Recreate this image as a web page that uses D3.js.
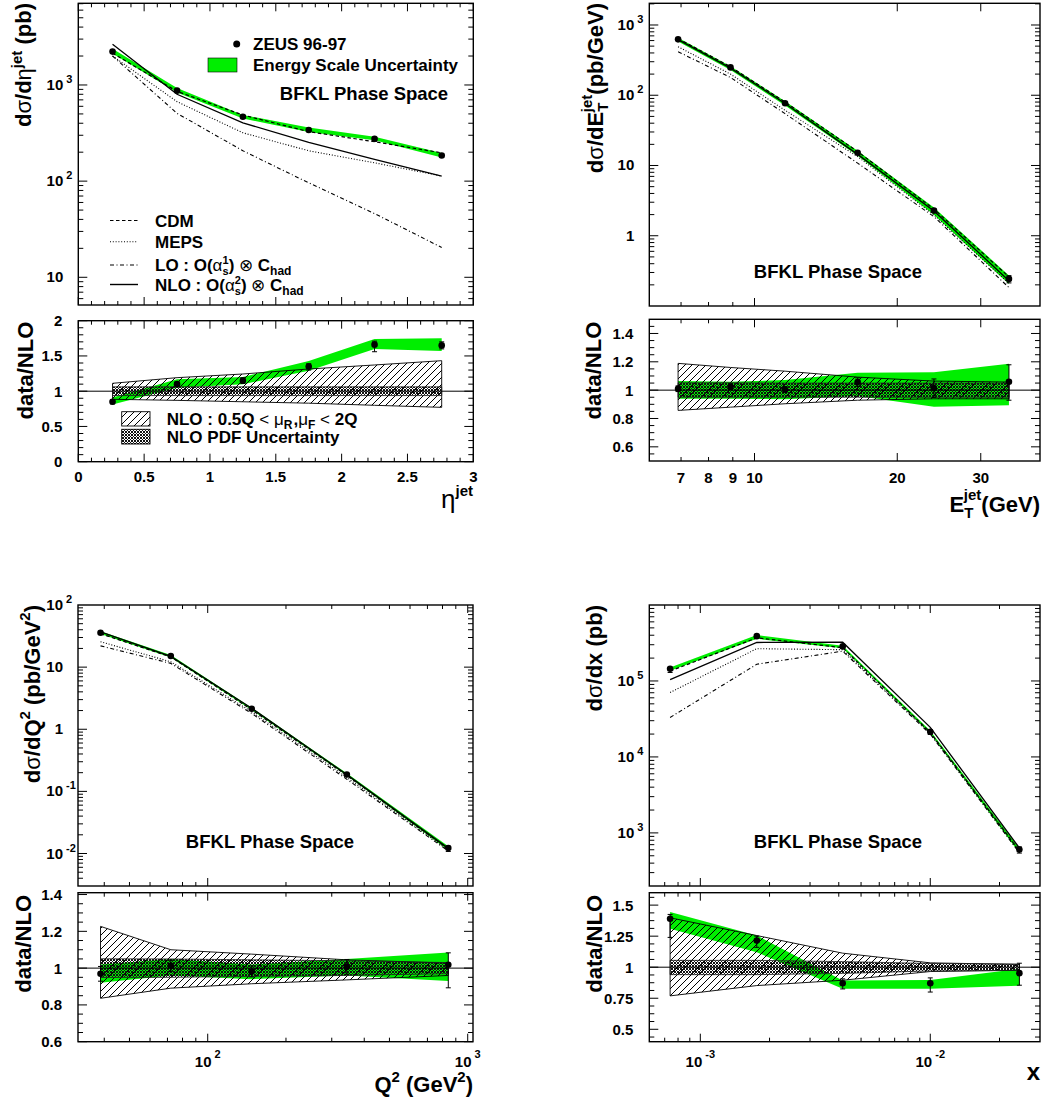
<!DOCTYPE html>
<html>
<head>
<meta charset="utf-8">
<script src="https://cdnjs.cloudflare.com/ajax/libs/d3/7.8.5/d3.min.js"></script>
<style>
html,body{margin:0;padding:0;background:#fff;}
svg{display:block;font-family:"Liberation Sans",Arial,Helvetica,sans-serif;font-weight:bold;}
text{white-space:pre;}
</style>
</head>
<body>
<svg id="chart" width="1047" height="1104"></svg>
<script>
// ================= DATA =================
// (a) d sigma / d eta^jet  (pb)
const etaBins   = [0.26, 0.75, 1.25, 1.75, 2.25, 2.76];
const etaData   = [2225, 873, 468, 340, 276, 185];
const etaCDM    = [2140, 857, 487, 327, 257, 197];
const etaMEPS   = [2005, 670, 318, 207, 155, 113];
const etaLO     = [2000, 507, 207, 96, 46, 20.4];
const etaNLO    = [2655, 800, 404, 253, 168, 113];
const etaRatio  = [0.85, 1.10, 1.15, 1.35, 1.66, 1.65];
const etaErrUp  = [0.03, 0.03, 0.04, 0.04, 0.05, 0.05];
const etaErrDn  = [0.03, 0.03, 0.04, 0.05, 0.10, 0.05];
const etaESLo   = [0.81, 1.05, 1.10, 1.29, 1.60, 1.57];
const etaESHi   = [0.91, 1.17, 1.20, 1.43, 1.74, 1.75];
const etaScaleHi= [1.112, 1.192, 1.244, 1.315, 1.372, 1.433];
const etaScaleLo= [0.885, 0.870, 0.850, 0.830, 0.800, 0.771];
const etaPdfHi  = [1.062, 1.062, 1.062, 1.062, 1.062, 1.062];
const etaPdfLo  = [0.938, 0.938, 0.938, 0.938, 0.938, 0.938];
const etaXTicks = [0, 0.5, 1, 1.5, 2, 2.5, 3];
const etaRTicks = [0, 0.5, 1, 1.5, 2];
const etaYExps  = [1, 2, 3];

// (b) d sigma / d E_T^jet  (pb/GeV)
const etBins    = [6.9, 8.9, 11.6, 16.5, 23.9, 34.4];
const etData    = [625, 249, 76.9, 15.2, 2.28, 0.243];
const etCDM     = [640, 255, 80, 15.8, 2.4, 0.26];
const etMEPS    = [490, 200, 61, 13.4, 1.98, 0.209];
const etLO      = [416, 179, 54.7, 10.8, 1.87, 0.183];
const etNLO     = [619, 243, 76.5, 14.4, 2.25, 0.229];
const etRatio   = [1.01, 1.024, 1.005, 1.057, 1.014, 1.059];
const etErrUp   = [0.02, 0.02, 0.02, 0.03, 0.065, 0.12];
const etErrDn   = [0.02, 0.02, 0.02, 0.03, 0.065, 0.13];
const etESLo    = [0.939, 0.94, 0.936, 0.958, 0.882, 0.893];
const etESHi    = [1.064, 1.06, 1.071, 1.123, 1.127, 1.187];
const etScaleHi = [1.189, 1.16, 1.134, 1.092, 1.064, 1.057];
const etScaleLo = [0.857, 0.88, 0.904, 0.929, 0.939, 0.939];
const etPdfHi   = [1.052, 1.052, 1.05, 1.05, 1.05, 1.05];
const etPdfLo   = [0.950, 0.950, 0.95, 0.95, 0.95, 0.95];
const etXMajor  = [10, 20, 30];
const etXMinor  = [7, 8, 9];
const etXLabels = [7, 8, 9, 10, 20, 30];
const etRTicks  = [0.6, 0.8, 1, 1.2, 1.4];
const etYExps   = [0, 1, 2, 3];

// (c) d sigma / d Q^2  (pb/GeV^2)
const q2Bins    = [38.7, 72.1, 147.6, 342.8, 842];
const q2Data    = [35.8, 15.1, 2.14, 0.187, 0.0123];
const q2CDM     = [34.5, 14.6, 2.06, 0.181, 0.0119];
const q2MEPS    = [25.6, 12.2, 1.91, 0.168, 0.0113];
const q2LO      = [22.0, 11.5, 1.80, 0.157, 0.0110];
const q2NLO     = [36.9, 14.9, 2.18, 0.186, 0.0121];
const q2Ratio   = [0.969, 1.013, 0.982, 1.007, 1.018];
const q2ErrUp   = [0.04, 0.03, 0.03, 0.04, 0.065];
const q2ErrDn   = [0.04, 0.03, 0.03, 0.04, 0.125];
const q2ESLo    = [0.92, 0.96, 0.94, 0.96, 0.93];
const q2ESHi    = [1.02, 1.05, 1.02, 1.05, 1.085];
const q2ScaleHi = [1.227, 1.10, 1.076, 1.045, 1.027];
const q2ScaleLo = [0.836, 0.891, 0.915, 0.936, 0.960];
const q2PdfHi   = [1.051, 1.05, 1.045, 1.04, 1.03];
const q2PdfLo   = [0.949, 0.95, 0.955, 0.96, 0.97];
const q2RTicks  = [0.6, 0.8, 1, 1.2, 1.4];
const q2YExps   = [-2, -1, 0, 1, 2];
const q2XExps   = [2, 3];

// (d) d sigma / d x  (pb)
const xBins     = [7.39e-4, 1.76e-3, 4.16e-3, 1.0e-2, 2.44e-2];
const xData     = [1.45e5, 3.89e5, 2.85e5, 2.15e4, 604];
const xCDM      = [1.35e5, 3.70e5, 2.74e5, 2.10e4, 580];
const xMEPS     = [7.05e4, 2.66e5, 2.58e5, 2.04e4, 574];
const xLO       = [3.31e4, 1.66e5, 2.47e5, 2.00e4, 547];
const xNLO      = [1.04e5, 3.21e5, 3.24e5, 2.45e4, 635];
const xRatio    = [1.39, 1.215, 0.871, 0.871, 0.952];
const xErrUp    = [0.035, 0.035, 0.035, 0.043, 0.08];
const xErrDn    = [0.15, 0.055, 0.046, 0.071, 0.097];
const xESLo     = [1.31, 1.121, 0.826, 0.826, 0.852];
const xESHi     = [1.444, 1.255, 0.892, 0.897, 0.987];
const xScaleHi  = [1.398, 1.255, 1.113, 1.035, 1.022];
const xScaleLo  = [0.769, 0.852, 0.895, 0.965, 0.975];
const xPdfHi    = [1.055, 1.055, 1.045, 1.03, 1.025];
const xPdfLo    = [0.940, 0.940, 0.950, 0.97, 0.975];
const xRTicks   = [0.5, 0.75, 1, 1.25, 1.5];
const xYExps    = [3, 4, 5];
const xXExps    = [-3, -2];

const phaseLabel = "BFKL Phase Space";

// ================= DRAWING =================
const GREEN = "#00ee00";
const svg = d3.select("#chart");
const defs = svg.append("defs");
const hp = defs.append("pattern").attr("id","hatch").attr("patternUnits","userSpaceOnUse")
  .attr("width",7).attr("height",7);
hp.append("path").attr("d","M-1,1 L1,-1 M0,7 L7,0 M6,8 L8,6").attr("stroke","#000").attr("stroke-width",1);
const cp = defs.append("pattern").attr("id","cross").attr("patternUnits","userSpaceOnUse")
  .attr("width",3).attr("height",3);
cp.append("path").attr("d","M-1,1 L1,-1 M0,3 L3,0 M2,4 L4,2 M-1,2 L1,4 M0,0 L3,3 M2,-1 L4,1")
  .attr("stroke","#111").attr("stroke-width",1.0);

function logTicks(dom){
  const maj=[],min=[];
  const a=Math.min(dom[0],dom[1]), b=Math.max(dom[0],dom[1]);
  for(let e=Math.floor(Math.log10(a))-1;e<=Math.ceil(Math.log10(b));e++){
    for(let k=1;k<10;k++){
      const v=k*Math.pow(10,e);
      if(v>=a*1.0001 && v<=b*0.9999){ (k===1?maj:min).push(v); }
    }
  }
  return {maj,min};
}
function linMinors(dom, start, step){
  const out=[];
  for(let k=-60;k<=60;k++){
    const v=start+k*step;
    if(v>dom[0]+1e-9 && v<dom[1]-1e-9) out.push(v);
  }
  return out;
}

function rich(g, x, y, parts, opt){
  const base=opt.size;
  const t=g.append("text").attr("font-size",base).attr("text-anchor",opt.anchor||"start");
  if(opt.rotate) t.attr("transform",`translate(${x},${y}) rotate(-90)`);
  else t.attr("x",x).attr("y",y);
  let cur=0;
  parts.forEach(p=>{
    if(typeof p==="string") p={t:p};
    const sz=p.size||((p.sup||p.sub)?Math.round(base*0.68):base);
    const off=p.sup?-(p.up||base*0.45):p.sub?(p.down||base*0.3):0;
    const s=t.append("tspan").attr("font-size",sz).attr("dy",off-cur).text(p.t);
    if(p.dx) s.attr("dx",p.dx);
    if(p.n) s.attr("font-weight","normal");
    cur=off;
  });
  return t;
}

function tickPath(xs, ys, xt, yt, x0,x1,y0,y1, lx, ly){
  let d="";
  xt.maj.forEach(v=>{const p=xs(v); d+=`M${p},${y0}v${lx[0]}M${p},${y1}v${-lx[0]}`;});
  xt.min.forEach(v=>{const p=xs(v); d+=`M${p},${y0}v${lx[1]}M${p},${y1}v${-lx[1]}`;});
  yt.maj.forEach(v=>{const p=ys(v); d+=`M${x0},${p}h${ly[0]}M${x1},${p}h${-ly[0]}`;});
  yt.min.forEach(v=>{const p=ys(v); d+=`M${x0},${p}h${ly[1]}M${x1},${p}h${-ly[1]}`;});
  return d;
}

function yPowLabel(g, yp, axisX, exp){
  const base = exp===0 ? "1" : "10";
  g.append("text").attr("x",axisX-15).attr("y",yp+5).attr("text-anchor","end").attr("font-size",15).text(base);
  if(exp!==0 && exp!==1)
    g.append("text").attr("x",axisX-12).attr("y",yp-2).attr("font-size",11).text(String(exp));
}

function drawPanel(c){
  const g=svg.append("g");
  const x=(c.xLog?d3.scaleLog():d3.scaleLinear()).domain(c.xDom).range([c.x0,c.x1]);
  const ym=d3.scaleLog().domain(c.yDom).range([c.m1,c.m0]);
  const yr=d3.scaleLinear().domain(c.rDom).range([c.r1,c.r0]);
  const idx=d3.range(c.xs.length);
  const X=i=>x(c.xs[i]);

  // ---------- main panel ----------
  const gm=g.append("g");
  gm.append("path").attr("fill",GREEN)
    .attr("d",d3.area().x(X).y0(i=>ym(c.data[i]*c.esLo[i]/c.ratio[i])).y1(i=>ym(c.data[i]*c.esHi[i]/c.ratio[i]))(idx));
  [[c.lo,"4,2.5,1,2.5",1.1],[c.meps,"1,1.8",1.1],[c.cdm,"3.5,2.5",1.2],[c.nlo,null,1.3]].forEach(([arr,dash,w])=>{
    const p=gm.append("path").attr("fill","none").attr("stroke","#000").attr("stroke-width",w)
      .attr("d",d3.line().x(X).y(i=>ym(arr[i]))(idx));
    if(dash) p.attr("stroke-dasharray",dash);
  });
  idx.forEach(i=>{
    const v=c.data[i], r=c.ratio[i];
    const yu=ym(v*(1+c.errUp[i]/r)), yd=ym(v*(1-c.errDn[i]/r)), xp=X(i);
    gm.append("path").attr("stroke","#000").attr("stroke-width",1).attr("fill","none")
      .attr("d",`M${xp},${yu}V${yd}M${xp-2.5},${yu}h5M${xp-2.5},${yd}h5`);
    gm.append("circle").attr("cx",xp).attr("cy",ym(v)).attr("r",3.3).attr("fill","#000");
  });
  const xt = c.xTicks(x);
  const ymt = logTicks(c.yDom);
  g.append("path").attr("stroke","#000").attr("stroke-width",1).attr("fill","none")
    .attr("d",tickPath(x,ym,xt,ymt,c.x0,c.x1,c.m0,c.m1,[8,4],[9,5]));
  g.append("rect").attr("x",c.x0).attr("y",c.m0).attr("width",c.x1-c.x0).attr("height",c.m1-c.m0)
    .attr("fill","none").attr("stroke","#000").attr("stroke-width",1.4);
  c.yExps.forEach(e=>yPowLabel(g, ym(Math.pow(10,e)), c.x0, e));

  // ---------- ratio panel ----------
  const gr=g.append("g");
  gr.append("path").attr("fill",GREEN)
    .attr("d",d3.area().x(X).y0(i=>yr(c.esLo[i])).y1(i=>yr(c.esHi[i]))(idx));
  gr.append("path").attr("fill","url(#hatch)").attr("stroke","#000").attr("stroke-width",0.9)
    .attr("d",d3.area().x(X).y0(i=>yr(c.scLo[i])).y1(i=>yr(c.scHi[i]))(idx)+"Z");
  gr.append("path").attr("fill","url(#cross)").attr("stroke","#222").attr("stroke-width",0.8)
    .attr("d",d3.area().x(X).y0(i=>yr(c.pdfLo[i])).y1(i=>yr(c.pdfHi[i]))(idx)+"Z");
  gr.append("line").attr("x1",c.x0).attr("x2",c.x1).attr("y1",yr(1)).attr("y2",yr(1))
    .attr("stroke","#000").attr("stroke-width",1);
  idx.forEach(i=>{
    const r=c.ratio[i], xp=X(i);
    const yu=yr(r+c.errUp[i]), yd=yr(r-c.errDn[i]);
    gr.append("path").attr("stroke","#000").attr("stroke-width",1).attr("fill","none")
      .attr("d",`M${xp},${yu}V${yd}M${xp-2.5},${yu}h5M${xp-2.5},${yd}h5`);
    gr.append("circle").attr("cx",xp).attr("cy",yr(r)).attr("r",3.3).attr("fill","#000");
  });
  const yrt={maj:c.rTicks, min:linMinors(c.rDom,c.rTicks[0],c.rMinorStep).filter(v=>!c.rTicks.some(t=>Math.abs(t-v)<1e-6))};
  g.append("path").attr("stroke","#000").attr("stroke-width",1).attr("fill","none")
    .attr("d",tickPath(x,yr,xt,yrt,c.x0,c.x1,c.r0,c.r1,[8,4],[9,5]));
  g.append("rect").attr("x",c.x0).attr("y",c.r0).attr("width",c.x1-c.x0).attr("height",c.r1-c.r0)
    .attr("fill","none").attr("stroke","#000").attr("stroke-width",1.4);
  c.rTicks.forEach(v=>{
    g.append("text").attr("x",c.x0-16).attr("y",yr(v)+5.5).attr("text-anchor","end")
      .attr("font-size",15).text(String(v));
  });
  c.xLabels(g, x, c.r1);

  // phase space label
  g.append("text").attr("x",c.phX).attr("y",c.phY).attr("text-anchor","middle")
    .attr("font-size",18.5).text(phaseLabel);
  return {g, x, ym, yr};
}

// ---- panel (a)
const A = drawPanel({
  xs:etaBins, data:etaData, cdm:etaCDM, meps:etaMEPS, lo:etaLO, nlo:etaNLO, ratio:etaRatio,
  errUp:etaErrUp, errDn:etaErrDn, esLo:etaESLo, esHi:etaESHi, scLo:etaScaleLo, scHi:etaScaleHi,
  pdfLo:etaPdfLo, pdfHi:etaPdfHi,
  xLog:false, xDom:[0,3], x0:78.3, x1:473.3,
  yDom:[5.15,7070], m0:3.3, m1:305,
  rDom:[0,2], r0:320.7, r1:461.7, rTicks:etaRTicks, rMinorStep:0.1,
  yExps:etaYExps,
  xTicks:x=>({maj:etaXTicks, min:linMinors([0,3],0,0.1).filter(v=>Math.abs(v*2-Math.round(v*2))>1e-6)}),
  xLabels:(g,x,yb)=>etaXTicks.forEach(v=>g.append("text").attr("x",x(v)).attr("y",yb+20).attr("text-anchor","middle").attr("font-size",15).text(String(v))),
  phX:364, phY:99.5
});

// ---- panel (b)
const B = drawPanel({
  xs:etBins, data:etData, cdm:etCDM, meps:etMEPS, lo:etLO, nlo:etNLO, ratio:etRatio,
  errUp:etErrUp, errDn:etErrDn, esLo:etESLo, esHi:etESHi, scLo:etScaleLo, scHi:etScaleHi,
  pdfLo:etPdfLo, pdfHi:etPdfHi,
  xLog:true, xDom:[6,40], x0:649.3, x1:1040,
  yDom:[0.1,2036], m0:3.3, m1:306,
  rDom:[0.5,1.5], r0:319.3, r1:461, rTicks:etRTicks, rMinorStep:0.05,
  yExps:etYExps,
  xTicks:x=>({maj:etXMajor, min:etXMinor}),
  xLabels:(g,x,yb)=>etXLabels.forEach(v=>g.append("text").attr("x",x(v)).attr("y",yb+22).attr("text-anchor","middle").attr("font-size",15).text(String(v))),
  phX:838, phY:278
});

// ---- panel (c)
function powXLabels(exps){
  return (g,x,yb)=>exps.forEach(e=>{
    const t=g.append("text").attr("x",x(Math.pow(10,e))).attr("y",yb+25).attr("text-anchor","middle").attr("font-size",15);
    t.append("tspan").text("10");
    t.append("tspan").attr("font-size",11).attr("dy",-9).attr("dx",3).text(String(e));
  });
}
const C = drawPanel({
  xs:q2Bins, data:q2Data, cdm:q2CDM, meps:q2MEPS, lo:q2LO, nlo:q2NLO, ratio:q2Ratio,
  errUp:q2ErrUp, errDn:q2ErrDn, esLo:q2ESLo, esHi:q2ESHi, scLo:q2ScaleLo, scHi:q2ScaleHi,
  pdfLo:q2PdfLo, pdfHi:q2PdfHi,
  xLog:true, xDom:[31.7,1048], x0:78, x1:473,
  yDom:[0.003,100], m0:605, m1:886,
  rDom:[0.6,1.41], r0:892.7, r1:1041.7, rTicks:q2RTicks, rMinorStep:0.05,
  yExps:q2YExps,
  xTicks:x=>logTicks([31.7,1048]),
  xLabels:powXLabels(q2XExps),
  phX:270, phY:848
});

// ---- panel (d)
const D = drawPanel({
  xs:xBins, data:xData, cdm:xCDM, meps:xMEPS, lo:xLO, nlo:xNLO, ratio:xRatio,
  errUp:xErrUp, errDn:xErrDn, esLo:xESLo, esHi:xESHi, scLo:xScaleLo, scHi:xScaleHi,
  pdfLo:xPdfLo, pdfHi:xPdfHi,
  xLog:true, xDom:[6e-4,0.03], x0:649.3, x1:1040,
  yDom:[200,1e6], m0:605, m1:886,
  rDom:[0.4,1.6], r0:892.7, r1:1041.7, rTicks:xRTicks, rMinorStep:0.0625,
  yExps:xYExps,
  xTicks:x=>logTicks([6e-4,0.03]),
  xLabels:powXLabels(xXExps),
  phX:838, phY:848
});

// ---------- axis titles ----------
const T = svg.append("g");
rich(T, 31, 3, ["d",{t:"σ",n:true},"/d",{t:"η",n:true},{t:"jet",sup:true,up:9}," (pb)"], {size:22, anchor:"end", rotate:true});
rich(T, 33, 321.7, ["data/NLO"], {size:22, anchor:"end", rotate:true});
rich(T, 603, 3, ["d",{t:"σ",n:true},"/dE",{t:"T",sub:true,down:5},{t:"jet",sup:true,up:11,dx:-9.5},"(pb/GeV)"], {size:22, anchor:"end", rotate:true});
rich(T, 601, 321.7, ["data/NLO"], {size:22, anchor:"end", rotate:true});
rich(T, 40, 605, ["d",{t:"σ",n:true},"/dQ",{t:"2",sup:true,up:10}," (pb/GeV",{t:"2",sup:true,up:10},")"], {size:22, anchor:"end", rotate:true});
rich(T, 31, 895, ["data/NLO"], {size:22, anchor:"end", rotate:true});
rich(T, 602, 605, ["d",{t:"σ",n:true},"/dx (pb)"], {size:22, anchor:"end", rotate:true});
rich(T, 602, 895, ["data/NLO"], {size:22, anchor:"end", rotate:true});

rich(T, 473, 508, [{t:"η",n:true,size:26},{t:"jet",sup:true,up:12,size:15}], {size:22, anchor:"end"});
rich(T, 1040, 512, ["E",{t:"T",sub:true,down:6,size:15},{t:"jet",sup:true,up:12,size:15,dx:-9.5},"(GeV)"], {size:22, anchor:"end"});
rich(T, 473, 1092, ["Q",{t:"2",sup:true,up:10,size:15}," (GeV",{t:"2",sup:true,up:10,size:15},")"], {size:22, anchor:"end"});
rich(T, 1040, 1080, ["x"], {size:24, anchor:"end"});

// ---------- legends (panel a) ----------
const L = svg.append("g");
L.append("circle").attr("cx",236.7).attr("cy",44).attr("r",3.5).attr("fill","#000");
L.append("text").attr("x",253).attr("y",50).attr("font-size",17).text("ZEUS 96-97");
L.append("rect").attr("x",208).attr("y",58).attr("width",29).attr("height",14).attr("fill",GREEN).attr("stroke","#000").attr("stroke-width",0.6);
L.append("text").attr("x",253).attr("y",71).attr("font-size",17).text("Energy Scale Uncertainty");

const legLines = [
  {y:220.5, dash:"3.5,2.5", w:1.2, parts:["CDM"]},
  {y:241.7, dash:"1,1.8", w:1.1, parts:["MEPS"]},
  {y:265, dash:"4,2.5,1,2.5", w:1.1, parts:["LO : O(",{t:"α",n:true},{t:"1",sup:true,up:7,size:11},{t:"s",sub:true,down:4,size:11,dx:-6},") ",{t:"⊗",n:true}," C",{t:"had",sub:true,down:4,size:12}]},
  {y:284.5, dash:null, w:1.4, parts:["NLO : O(",{t:"α",n:true},{t:"2",sup:true,up:7,size:11},{t:"s",sub:true,down:4,size:11,dx:-6},") ",{t:"⊗",n:true}," C",{t:"had",sub:true,down:4,size:12}]}
];
legLines.forEach(l=>{
  const p=L.append("line").attr("x1",110).attr("x2",138).attr("y1",l.y).attr("y2",l.y).attr("stroke","#000").attr("stroke-width",l.w);
  if(l.dash) p.attr("stroke-dasharray",l.dash);
  rich(L,155,l.y+6,l.parts,{size:17});
});

L.append("rect").attr("x",121.7).attr("y",411.7).attr("width",28.3).attr("height",14.3).attr("fill","url(#hatch)").attr("stroke","#000").attr("stroke-width",0.9);
rich(L,166.7,425,["NLO : 0.5Q ",{t:"<",n:true}," ",{t:"μ",n:true},{t:"R",sub:true,down:4,size:12},{t:",",dx:1},{t:"μ",n:true},{t:"F",sub:true,down:4,size:12}," ",{t:"<",n:true}," 2Q"],{size:17});
L.append("rect").attr("x",121.7).attr("y",429.3).attr("width",28.3).attr("height",14.7).attr("fill","url(#cross)").attr("stroke","#000").attr("stroke-width",0.9);
L.append("text").attr("x",166.7).attr("y",442.7).attr("font-size",17).text("NLO PDF Uncertainty");
</script>
</body>
</html>
